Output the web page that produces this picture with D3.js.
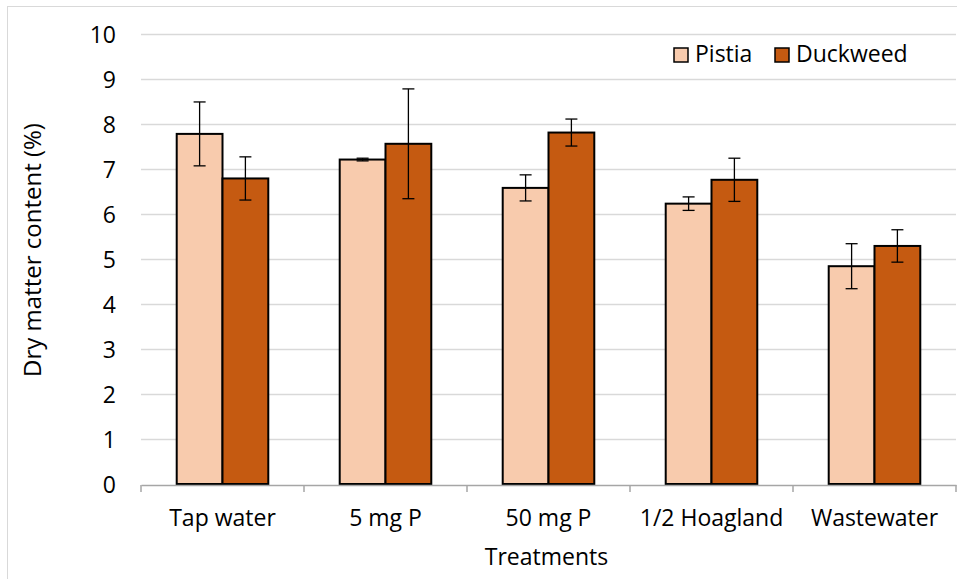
<!DOCTYPE html>
<html><head><meta charset="utf-8">
<script src="https://cdn.jsdelivr.net/npm/d3@7"></script>
<style>body{margin:0;background:#fff;} text{font-family:"Open Sans",Lato,sans-serif;fill:#000;}</style>
</head><body>
<svg id="c" width="957" height="579"></svg>
<script>
const categories = ["Tap water","5 mg P","50 mg P","1/2 Hoagland","Wastewater"];
const seriesNames = ["Pistia","Duckweed"];
const pistia = [7.78, 7.21, 6.58, 6.23, 4.84];
const pistiaErr = [0.71, 0.03, 0.29, 0.15, 0.50];
const duckweed = [6.79, 7.56, 7.81, 6.76, 5.29];
const duckweedErr = [0.48, 1.22, 0.30, 0.48, 0.36];
const yTicks = [0,1,2,3,4,5,6,7,8,9,10];
const colors = ["#F8CBAD","#C55A11"];
const FS = 23;
const FONT = "Open Sans";

const svg = d3.select("#c");
const m = {left:141, right:956, top:34, bottom:484};
svg.append("rect").attr("x",7.5).attr("y",6.5).attr("width",960).attr("height",600)
  .attr("fill","none").attr("stroke","#D9D9D9").attr("stroke-width",1);

const x = d3.scaleBand().domain(categories).range([m.left,m.right]).paddingInner(0).paddingOuter(0);
const x1 = d3.scaleBand().domain(seriesNames).range([0,x.bandwidth()]).paddingInner(0).paddingOuter(0.78);
const y = d3.scaleLinear().domain([0,10]).range([m.bottom,m.top]);

// gridlines
svg.append("g").selectAll("line").data(yTicks.filter(d=>d>0)).join("line")
  .attr("x1",m.left).attr("x2",m.right).attr("y1",d=>y(d)+0.5).attr("y2",d=>y(d)+0.5)
  .attr("stroke","#D9D9D9").attr("stroke-width",1.3);

// y labels
const ya = d3.axisLeft(y).tickValues(yTicks).tickSize(0).tickPadding(0).tickFormat(d3.format("d"));
const yg = svg.append("g").attr("transform",`translate(${116},0)`).call(ya);
yg.select(".domain").remove();
yg.selectAll("text").attr("font-size",FS).attr("font-family",FONT).attr("fill","#000").attr("dy","0.36em");

const data = categories.map((c,i)=>({c, vals:[{s:"Pistia",v:pistia[i],e:pistiaErr[i]},{s:"Duckweed",v:duckweed[i],e:duckweedErr[i]}]}));
const g = svg.append("g").selectAll("g").data(data).join("g").attr("transform",d=>`translate(${x(d.c)},0)`);
g.selectAll("rect").data(d=>d.vals).join("rect")
  .attr("x",d=>x1(d.s)).attr("width",x1.bandwidth())
  .attr("y",d=>y(d.v)).attr("height",d=>y(0)-y(d.v))
  .attr("fill",(d,i)=>colors[i]).attr("stroke","#000").attr("stroke-width",2);
// error bars
const eb = g.selectAll("g.eb").data(d=>d.vals).join("g").attr("class","eb");
eb.append("line").attr("x1",d=>x1(d.s)+x1.bandwidth()/2).attr("x2",d=>x1(d.s)+x1.bandwidth()/2)
  .attr("y1",d=>y(d.v+d.e)).attr("y2",d=>y(d.v-d.e)).attr("stroke","#000").attr("stroke-width",1.3);
eb.append("line").attr("x1",d=>x1(d.s)+x1.bandwidth()/2-6).attr("x2",d=>x1(d.s)+x1.bandwidth()/2+6)
  .attr("y1",d=>y(d.v+d.e)).attr("y2",d=>y(d.v+d.e)).attr("stroke","#000").attr("stroke-width",1.3);
eb.append("line").attr("x1",d=>x1(d.s)+x1.bandwidth()/2-6).attr("x2",d=>x1(d.s)+x1.bandwidth()/2+6)
  .attr("y1",d=>y(d.v-d.e)).attr("y2",d=>y(d.v-d.e)).attr("stroke","#000").attr("stroke-width",1.3);

// x axis
const xa = d3.axisBottom(x).tickSize(0).tickPadding(0);
const xg = svg.append("g").attr("transform",`translate(0,${m.bottom+1})`).call(xa);
xg.select(".domain").attr("stroke","#A6A6A6").attr("stroke-width",1.5);
xg.selectAll("text").attr("font-size",FS).attr("font-family",FONT).attr("fill","#000").attr("dy",null).attr("y",41);
const bounds = categories.map(c=>x(c)).concat([m.right]);
xg.selectAll("line.tk").data(bounds).join("line").attr("class","tk")
  .attr("x1",d=>d).attr("x2",d=>d).attr("y1",0).attr("y2",7).attr("stroke","#A6A6A6").attr("stroke-width",1.5);

// axis titles
svg.append("text").attr("x",(m.left+m.right)/2-2).attr("y",565).attr("text-anchor","middle")
  .attr("font-size",FS).text("Treatments");
svg.append("text").attr("transform",`translate(41,250) rotate(-90)`)
  .attr("text-anchor","middle").attr("font-size",24).text("Dry matter content (%)");

// legend
const lg = svg.append("g");
const lx = [674, 775];
seriesNames.forEach((s,i)=>{
  lg.append("rect").attr("x",lx[i]).attr("y",48).attr("width",14).attr("height",14)
    .attr("fill",colors[i]).attr("stroke","#000").attr("stroke-width",1.5);
  lg.append("text").attr("x",lx[i]+21).attr("y",62).attr("font-size",FS).text(s);
});
</script>
</body></html>
